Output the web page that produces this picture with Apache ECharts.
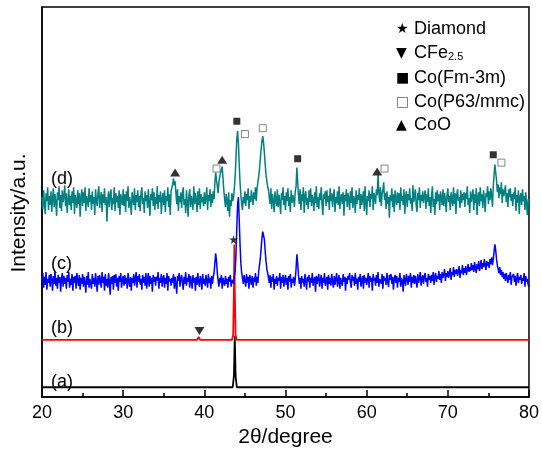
<!DOCTYPE html>
<html>
<head>
<meta charset="utf-8">
<script src="https://cdn.jsdelivr.net/npm/echarts@6/dist/echarts.min.js"></script>
<style>
  html, body { margin: 0; padding: 0; background: #fff; }
  #main { width: 542px; height: 453px; }
</style>
</head>
<body>
<div id="main"></div>
<script>
// scan grid 20-80 deg, 0.1 deg step
var scanStart = 20, scanStep = 0.1, scanCount = 601;
var twoTheta = [];
for (var i = 0; i < scanCount; i++) twoTheta.push(+(scanStart + i * scanStep).toFixed(1));

// (d) pattern (a.u., offset included), one row per degree
var intensityD = [
  203,191,210,196,186,207,199,213,190,204,
  195,209,188,201,212,193,206,197,184,208,
  200,214,192,205,189,210,198,203,215,194,
  207,187,200,211,195,204,190,209,197,213,
  186,205,199,192,210,196,207,183,202,211,
  194,208,197,213,189,204,200,193,212,198,
  205,190,209,196,203,185,211,199,194,207,
  214,192,201,208,188,206,197,212,195,203,
  178,199,209,193,205,211,190,202,196,213,
  189,207,198,204,192,210,185,206,200,195,
  211,194,206,188,209,199,214,192,203,197,
  185,208,201,195,212,190,205,198,210,193,
  204,189,207,213,196,202,187,209,199,205,
  192,211,197,184,206,200,212,194,208,190,
  203,196,214,191,205,198,209,186,201,207,
  195,210,188,204,199,213,193,206,185,209,
  210,216,222,215,219,207,196,211,189,204,
  198,208,192,206,213,195,201,187,210,197,
  183,205,211,193,204,199,190,214,196,207,
  200,188,209,195,212,191,206,198,203,194,
  208,196,202,213,190,205,199,211,193,206,
  197,209,201,218,228,220,214,207,219,224,
  226,231,234,222,210,201,193,206,198,189,
  208,183,200,194,207,199,203,212,225,243,
  262,270,258,236,218,205,196,190,203,197,
  209,194,206,200,212,191,204,198,210,202,
  195,208,201,213,199,212,218,224,232,242,
  252,260,265,258,248,236,226,219,214,210,
  203,196,212,191,206,199,188,209,201,194,
  211,193,205,198,186,207,200,213,195,204,
  190,208,199,212,194,203,188,210,197,205,
  201,193,209,214,233,218,205,196,211,190,
  206,199,213,187,204,209,195,202,191,210,
  198,212,194,205,200,189,208,197,214,193,
  203,191,207,200,213,196,185,206,201,209,
  194,210,198,204,190,212,199,207,193,205,
  211,188,203,197,209,195,214,191,202,206,
  196,208,184,205,199,211,193,207,200,190,
  209,197,213,192,204,201,187,210,196,205,
  200,212,191,206,195,203,209,189,214,198,
  185,204,199,210,193,206,201,214,190,207,
  203,196,211,205,226,208,198,213,194,206,
  210,218,200,207,191,209,196,203,182,205,
  199,212,193,206,188,210,201,195,208,197,
  207,190,213,199,204,195,211,186,203,209,
  193,206,200,212,196,202,189,215,198,204,
  211,195,188,207,200,213,192,205,199,209,
  197,204,210,191,206,198,212,194,203,187,
  205,214,193,201,185,208,196,210,199,206,
  190,209,202,195,211,194,207,200,188,205,
  212,198,204,190,208,201,194,213,196,207,
  186,205,211,199,203,192,210,197,206,200,
  208,193,207,201,214,195,202,187,209,198,
  204,211,190,206,197,212,185,203,208,194,
  213,199,206,192,210,201,188,207,203,214,
  196,209,200,212,205,193,214,226,236,228,
  220,208,216,202,213,206,218,197,211,204,
  209,215,198,207,193,211,203,212,199,206,
  194,208,201,213,189,205,197,210,186,203,
  207,195,211,199,204,190,208,196,185,201,
  196
];

// (c) pattern, one row per degree
var intensityC = [
  118,126,111,122,114,127,109,120,116,124,
  112,125,119,108,123,115,128,113,121,110,
  124,116,122,107,120,126,112,123,115,121,
  110,124,117,127,111,120,114,125,108,122,
  116,123,110,126,118,113,124,109,121,115,
  125,112,122,117,106,123,114,127,111,120,
  122,110,125,115,121,112,126,117,107,123,
  114,124,118,111,127,116,122,108,125,113,
  120,111,126,117,104,122,115,123,109,124,
  116,125,112,121,108,123,117,126,111,119,
  123,113,124,115,121,110,126,118,112,122,
  108,121,116,125,113,120,127,111,123,117,
  125,114,120,109,124,116,122,113,126,110,
  119,126,112,123,115,121,107,124,117,122,
  113,122,118,127,110,121,116,125,112,120,
  124,111,121,115,126,108,123,117,120,113,
  121,116,125,110,122,114,105,123,118,126,
  112,120,124,116,109,122,115,127,113,121,
  117,125,111,123,118,110,124,116,121,108,
  122,114,126,117,112,123,119,109,125,115,
  120,113,124,118,111,125,116,121,110,123,
  115,122,126,136,146,138,126,118,112,121,
  116,124,110,121,117,113,123,115,120,111,
  122,117,124,112,119,121,115,123,128,145,
  172,196,203,180,155,136,126,121,115,124,
  118,112,125,116,122,110,124,119,114,123,
  111,121,117,126,113,122,116,128,134,141,
  151,162,168,170,160,148,138,130,126,121,
  116,124,111,122,117,125,109,120,115,123,
  113,121,118,126,110,122,116,124,112,119,
  124,114,121,109,123,117,125,111,120,116,
  122,113,119,130,145,136,124,115,121,110,
  123,116,120,112,125,118,109,122,117,124,
  111,121,116,126,113,119,122,107,123,115,
  120,125,112,118,124,110,121,116,126,113,
  118,122,109,124,115,121,113,125,117,111,
  123,114,120,126,112,118,124,110,121,116,
  113,125,117,122,108,121,115,123,119,126,
  116,111,124,118,122,113,126,115,120,109,
  122,117,125,112,119,123,110,124,116,121,
  114,120,126,111,123,117,121,108,125,118,
  121,113,124,116,127,112,120,122,115,125,
  110,123,118,121,114,126,117,112,124,119,
  125,115,122,109,120,124,116,123,111,121,
  117,126,112,121,118,107,124,119,113,125,
  120,114,123,117,126,111,122,116,124,115,
  123,118,111,125,116,121,127,113,120,124,
  115,122,126,117,121,112,125,119,123,116,
  124,118,127,114,122,126,117,123,120,128,
  119,125,116,127,121,124,130,118,126,122,
  128,121,126,131,119,127,124,132,122,129,
  125,130,123,128,133,121,129,126,134,124,
  131,126,133,124,130,135,127,132,128,136,
  129,134,127,137,131,126,135,130,138,128,
  133,139,130,136,132,140,134,129,138,133,
  137,131,140,135,142,134,140,148,155,149,
  140,134,130,126,132,124,129,122,127,120,
  125,118,126,121,116,124,119,127,114,122,
  120,125,117,123,113,121,126,116,122,119,
  124,115,121,118,126,112,123,117,120,114,
  112
];

// (b) and (a): flat patterns, only the points where something happens
var patternB = [[20,58],[39.1,58],[39.3,61],[39.5,58],[43.4,58],[43.55,63],[43.65,110],[43.7,155],[43.75,110],[43.85,63],[44.0,58],[80,58]];
var patternA = [[20,10],[39.2,10],[39.3,12],[39.4,10],[43.5,10],[43.65,22],[43.75,62],[43.85,22],[44.0,10],[80,10]];

// phase markers
var diamondPeaks = [[43.6,160]];
var cfePeaks = [[39.4,67]];
var coFccPeaks = [[44.0,280],[51.5,242],[75.6,246]];
var coHcpPeaks = [[41.5,232],[45.0,267],[47.2,273],[62.2,232],[76.6,238]];
var coOPeaks = [[36.4,228],[42.2,241],[61.3,229]];

var sampleLabels = ['(a)','(b)','(c)','(d)'];
var sampleLabelY = [383, 329, 265, 180];

var xTicks = [20,30,40,50,60,70,80];

var FONT = '"Liberation Sans", Arial, sans-serif';
var STAR = 'path://M50,0 L61,35 L98,35 L68,57 L79,91 L50,70 L21,91 L32,57 L2,35 L39,35 Z';

function zipScan(vals){
  var out = [];
  for (var i = 0; i < vals.length; i++) out.push([twoTheta[i], vals[i]]);
  return out;
}

var chart = echarts.init(document.getElementById('main'), null, {renderer:'canvas'});

var graphics = [];
for (var i = 0; i < sampleLabels.length; i++) {
  graphics.push({
    type:'text', left: 51, top: sampleLabelY[i] - 10,
    style:{ text: sampleLabels[i], font: '18px ' + FONT, fill:'#000' }
  });
}
// phase key
var keyRows = [
  {sym:'★', txt:'Diamond', y:30},
  {sym:'▼', txt:'CFe{s|2.5}', y:54},
  {sym:'■', txt:'Co(Fm-3m)', y:79},
  {sym:'□', txt:'Co(P63/mmc)', y:103},
  {sym:'▲', txt:'CoO', y:126}
];
keyRows.forEach(function(r){
  graphics.push({
    type:'text', left: 396, top: r.y - 8,
    style:{ text: r.sym, font: '14px "DejaVu Sans"', fill: r.sym === '□' ? '#666' : '#000' }
  });
  graphics.push({
    type:'text', left: 414, top: r.y - 10,
    style:{ text: r.txt, font: '18px ' + FONT, fill:'#000',
      rich:{ s:{ fontSize: 11, fontFamily: FONT, verticalAlign:'bottom', padding:[8,0,0,0] } } }
  });
});

var option = {
  animation: false,
  grid: { left: 42, right: 12, top: 7, bottom: 50, show: true, borderColor:'#000', borderWidth: 1.5 },
  xAxis: {
    type:'value', min: 20, max: 80, interval: 10,
    name: '2θ/degree', nameLocation:'middle', nameGap: 27,
    nameTextStyle:{ fontSize: 21, fontFamily: FONT, color:'#000' },
    axisLine:{ show:true, lineStyle:{ color:'#000', width:1.5 } },
    axisTick:{ inside:true, length:7, lineStyle:{ color:'#000', width:1.5 } },
    minorTick:{ show:true, splitNumber:2, length:4, lineStyle:{ color:'#000', width:1.5 } },
    axisLabel:{ fontSize:18, fontFamily: FONT, color:'#000', margin: 7,
      formatter: function(v){ return xTicks.indexOf(v) >= 0 ? String(v) : ''; } },
    splitLine:{ show:false }
  },
  yAxis: {
    type:'value', min:0, max:396,
    name:'Intensity/a.u.', nameLocation:'middle', nameGap: 12,
    nameTextStyle:{ fontSize: 21, fontFamily: FONT, color:'#000', padding:[0,22,0,0] },
    axisLine:{ show:true, lineStyle:{ color:'#000', width:1.5 } },
    axisTick:{ show:false }, axisLabel:{ show:false }, splitLine:{ show:false }
  },
  graphic: graphics,
  series: [
    { type:'line', data: patternA, showSymbol:false, lineStyle:{ color:'#000', width:1.8 }, z:2 },
    { type:'line', data: patternB, showSymbol:false, lineStyle:{ color:'#ff0000', width:1.8 }, z:3 },
    { type:'line', data: zipScan(intensityC), showSymbol:false, lineStyle:{ color:'#0000ff', width:1.5 }, z:4 },
    { type:'line', data: zipScan(intensityD), showSymbol:false, lineStyle:{ color:'#008080', width:1.5 }, z:5 },
    { type:'scatter', data: diamondPeaks, symbol: STAR, symbolSize: 9, itemStyle:{ color:'#000' }, z:6 },
    { type:'scatter', data: cfePeaks, symbol:'triangle', symbolRotate:180, symbolSize:[10,8], itemStyle:{ color:'#000' }, z:6 },
    { type:'scatter', data: coFccPeaks, symbol:'rect', symbolSize:7, itemStyle:{ color:'#000' }, z:6 },
    { type:'scatter', data: coHcpPeaks, symbol:'rect', symbolSize:7, itemStyle:{ color:'#fff', borderColor:'#666', borderWidth:1 }, z:6 },
    { type:'scatter', data: coOPeaks, symbol:'triangle', symbolSize:[10,8], itemStyle:{ color:'#000' }, z:6 }
  ]
};
chart.setOption(option);
</script>
</body>
</html>
